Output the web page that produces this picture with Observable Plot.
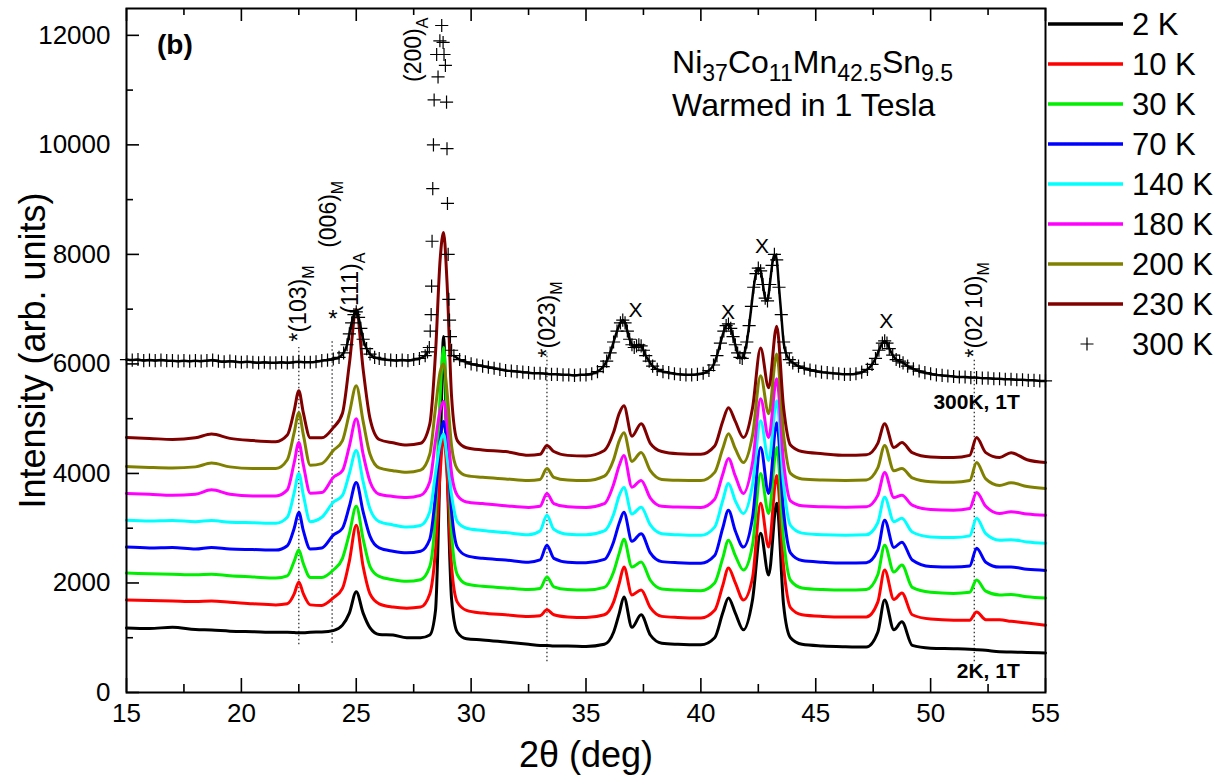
<!DOCTYPE html>
<html><head><meta charset="utf-8">
<script src="https://cdn.jsdelivr.net/npm/d3@7"></script>
<script src="https://cdn.jsdelivr.net/npm/@observablehq/plot@0.6"></script>
<style>body{margin:0;background:#fff;} #chart{width:1230px;height:780px;}</style>
</head><body><div id="chart"></div>
<script>
// ---- data ----
const theta = [
 15, 16, 17, 18, 18.7, 19.5, 20.5, 21.5, 22.0, 22.3,
 22.5, 22.7, 23.0, 23.5, 24.0, 24.4, 24.7, 25.0, 25.3, 25.6,
 26.0, 26.6, 27.2, 27.8, 28.2, 28.45, 28.65, 28.8, 28.95, 29.15,
 29.4, 29.8, 30.5, 31.5, 32.5, 33.0, 33.3, 33.6, 34.2, 35.0,
 35.8, 36.2, 36.45, 36.65, 37.0, 37.4, 37.8, 38.3, 39.0, 40.0,
 40.6, 40.95, 41.2, 41.5, 41.85, 42.25, 42.6, 42.95, 43.3, 43.6,
 43.9, 44.4, 45.3, 46.3, 47.2, 47.7, 48.0, 48.4, 48.75, 49.2,
 50.0, 51.0, 51.7, 52.0, 52.4, 53.0, 53.5, 54.2, 55];
const k2 = [
 1180, 1170, 1190, 1150, 1140, 1120, 1110, 1100, 1100, 1095,
 1090, 1090, 1100, 1105, 1130, 1230, 1450, 1840, 1450, 1180,
 1060, 1050, 1000, 1000, 1050, 1500, 4200, 6500, 4200, 1700,
 1100, 980, 960, 920, 880, 860, 860, 850, 850, 840,
 880, 1100, 1450, 1745, 1190, 1420, 1050, 900, 880, 870,
 1000, 1450, 1727, 1450, 1145, 1700, 2909, 2145, 3455, 1600,
 1000, 880, 850, 836, 830, 1100, 1690, 1145, 1290, 860,
 810, 800, 790, 782, 770, 745, 740, 730, 720];
const k10 = [
 1690, 1680, 1670, 1660, 1670, 1650, 1620, 1600, 1620, 1800,
 2020, 1800, 1600, 1590, 1727, 1900, 2400, 3055, 2300, 1800,
 1620, 1560, 1540, 1560, 1800, 2600, 4000, 4700, 4000, 2300,
 1650, 1500, 1450, 1420, 1390, 1400, 1510, 1420, 1380, 1370,
 1420, 1650, 2000, 2291, 1782, 1873, 1550, 1390, 1370, 1360,
 1500, 1950, 2273, 2000, 1690, 2100, 3454, 2655, 3963, 2300,
 1550, 1420, 1390, 1380, 1380, 1650, 2236, 1700, 1818, 1420,
 1340, 1320, 1320, 1472, 1330, 1327, 1300, 1270, 1230];
const k30 = [
 2180, 2170, 2160, 2150, 2160, 2130, 2110, 2090, 2130, 2400,
 2600, 2350, 2100, 2100, 2236, 2450, 2900, 3400, 2800, 2300,
 2120, 2060, 2030, 2060, 2300, 3300, 5400, 6300, 5000, 2900,
 2150, 1980, 1940, 1910, 1880, 1900, 2110, 1930, 1880, 1870,
 1920, 2200, 2550, 2800, 2291, 2382, 2050, 1890, 1870, 1860,
 2000, 2450, 2782, 2500, 2236, 2700, 4000, 3270, 4472, 2800,
 2050, 1910, 1880, 1870, 1880, 2150, 2690, 2200, 2327, 1920,
 1830, 1810, 1830, 2055, 1850, 1782, 1790, 1750, 1727];
const k70 = [
 2655, 2640, 2650, 2620, 2650, 2620, 2610, 2600, 2680, 3000,
 3290, 2950, 2620, 2640, 2873, 3000, 3400, 3836, 3300, 2850,
 2640, 2580, 2550, 2580, 2800, 3600, 4600, 4950, 4500, 3300,
 2650, 2500, 2450, 2420, 2380, 2420, 2690, 2450, 2380, 2370,
 2430, 2750, 3100, 3290, 2760, 2900, 2550, 2390, 2370, 2360,
 2500, 3000, 3327, 2950, 2655, 3200, 4472, 3636, 4927, 3300,
 2550, 2410, 2380, 2364, 2370, 2600, 3145, 2650, 2745, 2420,
 2300, 2290, 2310, 2636, 2380, 2290, 2290, 2250, 2230];
const k140 = [
 3145, 3130, 3140, 3120, 3140, 3110, 3100, 3090, 3200, 3650,
 4000, 3600, 3120, 3200, 3473, 3600, 4000, 4418, 3850, 3350,
 3120, 3060, 3020, 3050, 3300, 4000, 4550, 4720, 4300, 3600,
 3120, 3000, 2960, 2920, 2880, 2950, 3236, 2980, 2890, 2880,
 2950, 3250, 3600, 3745, 3260, 3382, 3060, 2900, 2880, 2870,
 3020, 3500, 3818, 3500, 3270, 3800, 4963, 4236, 5327, 3800,
 3050, 2910, 2880, 2873, 2880, 3100, 3564, 3120, 3182, 2930,
 2840, 2830, 2860, 3182, 2900, 2782, 2790, 2750, 2727];
const k180 = [
 3636, 3620, 3600, 3620, 3700, 3620, 3590, 3590, 3700, 4200,
 4564, 4150, 3640, 3650, 3927, 4050, 4500, 5000, 4350, 3850,
 3620, 3580, 3560, 3600, 3850, 4600, 5150, 5320, 4900, 4000,
 3600, 3480, 3450, 3410, 3380, 3400, 3636, 3450, 3390, 3380,
 3450, 3800, 4150, 4327, 3750, 3873, 3550, 3400, 3385, 3380,
 3530, 3980, 4273, 3950, 3636, 4200, 5363, 4655, 5727, 4200,
 3500, 3410, 3390, 3382, 3390, 3600, 4018, 3560, 3600, 3420,
 3340, 3330, 3360, 3654, 3400, 3270, 3300, 3260, 3236];
const k200 = [
 4127, 4110, 4100, 4120, 4190, 4120, 4090, 4090, 4250, 4750,
 5109, 4700, 4150, 4180, 4418, 4600, 5100, 5600, 4950, 4350,
 4100, 4050, 4020, 4060, 4350, 5200, 5850, 6000, 5500, 4500,
 4080, 3960, 3930, 3900, 3870, 3890, 4090, 3930, 3880, 3870,
 3950, 4250, 4600, 4745, 4220, 4382, 4050, 3890, 3875, 3870,
 4020, 4450, 4727, 4450, 4200, 4700, 5782, 5090, 6180, 4700,
 4000, 3900, 3880, 3873, 3880, 4100, 4509, 4050, 4090, 3920,
 3850, 3840, 3870, 4200, 3900, 3780, 3830, 3760, 3727];
const k230 = [
 4655, 4640, 4620, 4650, 4720, 4640, 4600, 4580, 4700, 5150,
 5509, 5100, 4650, 4650, 4836, 5100, 6000, 7000, 5900, 5000,
 4620, 4560, 4520, 4550, 4900, 6200, 7900, 8400, 7500, 5400,
 4600, 4470, 4430, 4400, 4330, 4350, 4509, 4400, 4330, 4320,
 4420, 4750, 5100, 5236, 4680, 4909, 4550, 4400, 4360, 4350,
 4500, 4950, 5200, 4950, 4655, 5200, 6290, 5564, 6690, 5200,
 4520, 4400, 4360, 4330, 4340, 4550, 4909, 4472, 4564, 4380,
 4300, 4290, 4330, 4655, 4380, 4290, 4380, 4250, 4200];
// 300 K, drawn as "+" symbols
const t300 = [
 15.0, 15.25, 15.5, 15.75, 16.0, 16.25, 16.5, 16.75, 17.0, 17.25,
 17.5, 17.75, 18.0, 18.25, 18.5, 18.75, 19.0, 19.25, 19.5, 19.75,
 20.0, 20.25, 20.5, 20.75, 21.0, 21.25, 21.5, 21.75, 22.0, 22.25,
 22.5, 22.75, 23.0, 23.25, 23.5, 23.75, 24.0, 24.25, 24.45, 24.6,
 24.7, 24.8, 24.9, 25.0, 25.1, 25.2, 25.3, 25.45, 25.6, 25.8,
 26.0, 26.25, 26.5, 26.75, 27.0, 27.25, 27.5, 27.75, 28.0, 28.1,
 28.18, 28.22, 28.26, 28.28, 28.3, 28.33, 28.36, 28.39, 28.5, 28.56,
 28.64, 28.72, 28.78, 28.82, 28.88, 28.93, 28.95, 28.97, 29.0, 29.03,
 29.06, 29.1, 29.15, 29.25, 29.5, 29.75, 30.0, 30.25, 30.5, 30.75,
 31.0, 31.25, 31.5, 31.75, 32.0, 32.25, 32.5, 32.75, 33.0, 33.25,
 33.5, 33.75, 34.0, 34.25, 34.5, 34.75, 35.0, 35.25, 35.5, 35.75,
 35.9, 36.05, 36.2, 36.35, 36.5, 36.6, 36.7, 36.8, 36.9, 37.0,
 37.1, 37.2, 37.3, 37.4, 37.5, 37.6, 37.75, 37.9, 38.1, 38.35,
 38.6, 38.85, 39.1, 39.35, 39.6, 39.85, 40.1, 40.35, 40.55, 40.7,
 40.85, 41.0, 41.1, 41.2, 41.3, 41.4, 41.5, 41.6, 41.7, 41.8,
 41.9, 42.0, 42.1, 42.2, 42.3, 42.4, 42.5, 42.6, 42.7, 42.8,
 42.9, 43.0, 43.1, 43.2, 43.3, 43.4, 43.5, 43.6, 43.7, 43.85,
 44.0, 44.25, 44.5, 44.75, 45.0, 45.25, 45.5, 45.75, 46.0, 46.25,
 46.5, 46.75, 47.0, 47.25, 47.45, 47.6, 47.75, 47.9, 48.0, 48.1,
 48.2, 48.35, 48.5, 48.65, 48.8, 49.0, 49.25, 49.5, 49.75, 50.0,
 50.25, 50.5, 50.75, 51.0, 51.25, 51.5, 51.75, 52.0, 52.25, 52.5,
 52.75, 53.0, 53.25, 53.5, 53.75, 54.0, 54.25, 54.5, 54.75, 55.0];
const i300 = [
 6080, 6070, 6080, 6060, 6070, 6060, 6070, 6060, 6060, 6050,
 6060, 6050, 6060, 6050, 6060, 6070, 6050, 6040, 6050, 6040,
 6030, 6040, 6030, 6020, 6030, 6020, 6020, 6030, 6020, 6030,
 6040, 6030, 6030, 6040, 6060, 6070, 6090, 6120, 6200, 6350,
 6550, 6750, 6900, 6950, 6850, 6650, 6450, 6280, 6180, 6120,
 6100, 6080, 6070, 6060, 6070, 6060, 6080, 6100, 6150, 6220,
 6300, 6600, 6900, 7420, 8240, 9200, 10000, 10820, 11650, 11240,
 11900, 12180, 11870, 11650, 11450, 10780, 9930, 8930, 8000, 7180,
 6800, 6500, 6250, 6150, 6080, 6040, 6000, 5980, 5960, 5940,
 5920, 5900, 5880, 5870, 5860, 5850, 5840, 5830, 5830, 5820,
 5810, 5810, 5800, 5800, 5790, 5800, 5800, 5820, 5860, 5950,
 6050, 6200, 6400, 6600, 6750, 6800, 6750, 6600, 6450, 6350,
 6300, 6330, 6350, 6330, 6250, 6150, 6050, 5960, 5900, 5860,
 5840, 5820, 5810, 5800, 5800, 5810, 5830, 5880, 5980, 6150,
 6380, 6600, 6700, 6730, 6650, 6500, 6350, 6200, 6120, 6100,
 6200, 6400, 6700, 7050, 7400, 7650, 7750, 7700, 7450, 7200,
 7150, 7450, 7800, 8000, 7900, 7400, 6900, 6400, 6200, 6080,
 6020, 5960, 5920, 5890, 5870, 5850, 5840, 5830, 5820, 5810,
 5810, 5820, 5850, 5900, 5990, 6100, 6250, 6380, 6420, 6380,
 6280, 6160, 6080, 6050, 6020, 5960, 5910, 5870, 5840, 5820,
 5800, 5790, 5780, 5770, 5760, 5760, 5750, 5750, 5740, 5740,
 5730, 5730, 5720, 5720, 5710, 5710, 5700, 5700, 5690, 5690];

const seriesNames = ["2 K", "10 K", "30 K", "70 K", "140 K", "180 K", "200 K", "230 K"];
const seriesColors = ["#000000", "#ff0000", "#00ee00", "#0000ff", "#00ffff", "#ff00ff", "#808000", "#800000"];
const xTicks = [15, 20, 25, 30, 35, 40, 45, 50, 55];
const xMinor = [17.5, 22.5, 27.5, 32.5, 37.5, 42.5, 47.5, 52.5];
const yTicks = [0, 2000, 4000, 6000, 8000, 10000, 12000];
const yMinor = [1000, 3000, 5000, 7000, 9000, 11000];
// dotted guide lines: position, lower end, upper end
const guideX = [22.5, 23.95, 33.3, 51.9];
const guideLo = [870, 900, 560, 560];
const guideHi = [6300, 6450, 6200, 6100];
// hkl labels (rotated, read bottom to top)
const hklText = ["*(103)", "(006)", "(111)", "(200)", "*(023)", "*(02 10)"];
const hklSub = ["M", "M", "A", "A", "M", "M"];
const hklX = [22.5, 23.8, 24.75, 27.5, 33.3, 51.9];
const hklY = [6400, 8110, 6910, 11140, 6110, 6110];
// "X" impurity markers
const impX = [37.15, 41.18, 42.66, 48.07];
const impY = [6980, 6950, 8150, 6780];

// ---- layout ----
const W = 1230, H = 780, mL = 126, mR = 185, mT = 8, mB = 88;
const fw = W - mL - mR, fh = H - mT - mB;
const FONT = "'Liberation Sans', Arial, Helvetica, sans-serif";

const lineSeries = [k2, k10, k30, k70, k140, k180, k200, k230];
const lineData = [];
lineSeries.forEach((vals, i) => vals.forEach((v, j) => lineData.push({x: theta[j], y: v, k: seriesNames[i]})));
const data300 = t300.map((t, j) => ({x: t, y: i300[j]}));
const guides = guideX.map((g, j) => ({x: g, y1: guideLo[j], y2: guideHi[j]}));
const imps = impX.map((v, j) => ({x: v, y: impY[j]}));

const plot = Plot.plot({
  width: W, height: H,
  marginLeft: mL, marginRight: mR, marginTop: mT, marginBottom: mB,
  x: {domain: [15, 55], axis: null},
  y: {domain: [0, 12490], axis: null},
  color: {domain: seriesNames, range: seriesColors},
  style: {fontFamily: FONT, background: "white", color: "black"},
  marks: [
    Plot.ruleX(guides, {x: "x", y1: "y1", y2: "y2", stroke: "#333", strokeWidth: 1.3, strokeDasharray: "1.5,2.5"}),
    Plot.line(lineData, {x: "x", y: "y", z: "k", stroke: "k", strokeWidth: 3, curve: "monotone-x"}),
    // dense 300 K symbols merge into a band away from the (200) peak
    Plot.line(data300, {filter: d => d.x < 28.15 || d.x > 29.2, x: "x", y: "y", z: d => d.x < 28.6 ? "a" : "b",
      stroke: "black", strokeWidth: 2.5, curve: "monotone-x"}),
    Plot.dot(data300, {x: "x", y: "y", symbol: "plus", r: 4.3, stroke: "black", strokeWidth: 1.2}),
    // ticks (inward)
    Plot.ruleX(xTicks, {x: d => d, insetTop: fh - 14, stroke: "black", strokeWidth: 1.6}),
    Plot.ruleX(xMinor, {x: d => d, insetTop: fh - 8, stroke: "black", strokeWidth: 1.6}),
    Plot.ruleX(xTicks, {x: d => d, insetBottom: fh - 13, stroke: "black", strokeWidth: 1.6}),
    Plot.ruleX(xMinor, {x: d => d, insetBottom: fh - 7, stroke: "black", strokeWidth: 1.6}),
    Plot.ruleY(yTicks, {y: d => d, insetRight: fw - 13, stroke: "black", strokeWidth: 1.6}),
    Plot.ruleY(yMinor, {y: d => d, insetRight: fw - 7, stroke: "black", strokeWidth: 1.6}),
    Plot.frame({stroke: "black", strokeWidth: 2}),
    // tick labels
    Plot.text(xTicks, {x: d => d, y: 0, text: d => String(d), lineAnchor: "top", dy: 11, fontSize: 26, fill: "black"}),
    Plot.text(yTicks, {x: 15, y: d => d, text: d => String(d), textAnchor: "end", dx: -16, fontSize: 26, fill: "black"}),
    // axis titles
    Plot.text(["2θ (deg)"], {frameAnchor: "bottom", textAnchor: "middle", lineAnchor: "middle", dy: 63, fontSize: 36, fill: "black"}),
    Plot.text(["Intensity (arb. units)"], {frameAnchor: "left", textAnchor: "middle", lineAnchor: "middle", dx: -93, rotate: -90, fontSize: 36, fill: "black"}),
    // impurity marks
    Plot.text(imps, {x: "x", y: "y", text: d => "X", fontSize: 21, fill: "black"}),
    Plot.text(["300K, 1T"], {x: 53.88, y: 5169, textAnchor: "end", lineAnchor: "bottom", fontSize: 21, fontWeight: "bold", fill: "black"}),
    Plot.text(["2K, 1T"], {x: 53.88, y: 256, textAnchor: "end", lineAnchor: "bottom", fontSize: 21, fontWeight: "bold", fill: "black"}),
    Plot.text(["*"], {x: 23.98, y: 6818, fontSize: 24, fill: "black"})
  ]
});

document.getElementById("chart").appendChild(plot);
const svg = d3.select(plot);
const X = plot.scale("x"), Y = plot.scale("y");
const sx = v => X.apply(v), sy = v => Y.apply(v);

// rotated hkl labels with subscripts
hklText.forEach((t, j) => {
  const el = svg.append("text")
    .attr("transform", `translate(${sx(hklX[j])},${sy(hklY[j])}) rotate(-90)`)
    .attr("dy", "0.35em").attr("text-anchor", "start")
    .attr("font-family", FONT).attr("font-size", 23).attr("fill", "black");
  el.append("tspan").text(t);
  el.append("tspan").attr("font-size", 16).attr("dy", "0.45em").text(hklSub[j]);
});

// panel label
svg.append("text").attr("x", sx(16.35)).attr("y", sy(11653)).attr("text-anchor", "start")
  .attr("font-family", FONT).attr("font-size", 28).attr("font-weight", "bold").attr("fill", "black").text("(b)");

// composition title
const formula = [["Ni", "37"], ["Co", "11"], ["Mn", "42.5"], ["Sn", "9.5"]];
const ft = svg.append("text").attr("x", sx(38.77)).attr("y", sy(11306)).attr("text-anchor", "start")
  .attr("font-family", FONT).attr("font-size", 32).attr("fill", "black");
formula.forEach(([el, n], j) => {
  ft.append("tspan").attr("dy", j === 0 ? 0 : -8).text(el);
  ft.append("tspan").attr("font-size", 23).attr("dy", 8).text(n);
});
svg.append("text").attr("x", sx(38.77)).attr("y", sy(10521)).attr("text-anchor", "start")
  .attr("font-family", FONT).attr("font-size", 32).attr("fill", "black").text("Warmed in 1 Tesla");

// legend
const lg = svg.append("g").attr("text-anchor", "start");
seriesNames.forEach((n, i) => {
  const yy = 24 + 40 * i;
  lg.append("line").attr("x1", 1048).attr("x2", 1123).attr("y1", yy).attr("y2", yy)
    .attr("stroke", seriesColors[i]).attr("stroke-width", 3.5);
  lg.append("text").attr("x", 1132).attr("y", yy).attr("dy", "0.35em")
    .attr("font-family", FONT).attr("font-size", 31).attr("fill", "black").text(n);
});
{
  const yy = 24 + 40 * 8;
  lg.append("path").attr("d", `M${1087 - 6.5},${yy}H${1087 + 6.5}M1087,${yy - 6.5}V${yy + 6.5}`)
    .attr("stroke", "black").attr("stroke-width", 1.2).attr("fill", "none");
  lg.append("text").attr("x", 1132).attr("y", yy).attr("dy", "0.35em")
    .attr("font-family", FONT).attr("font-size", 31).attr("fill", "black").text("300 K");
}
</script>
</body></html>
